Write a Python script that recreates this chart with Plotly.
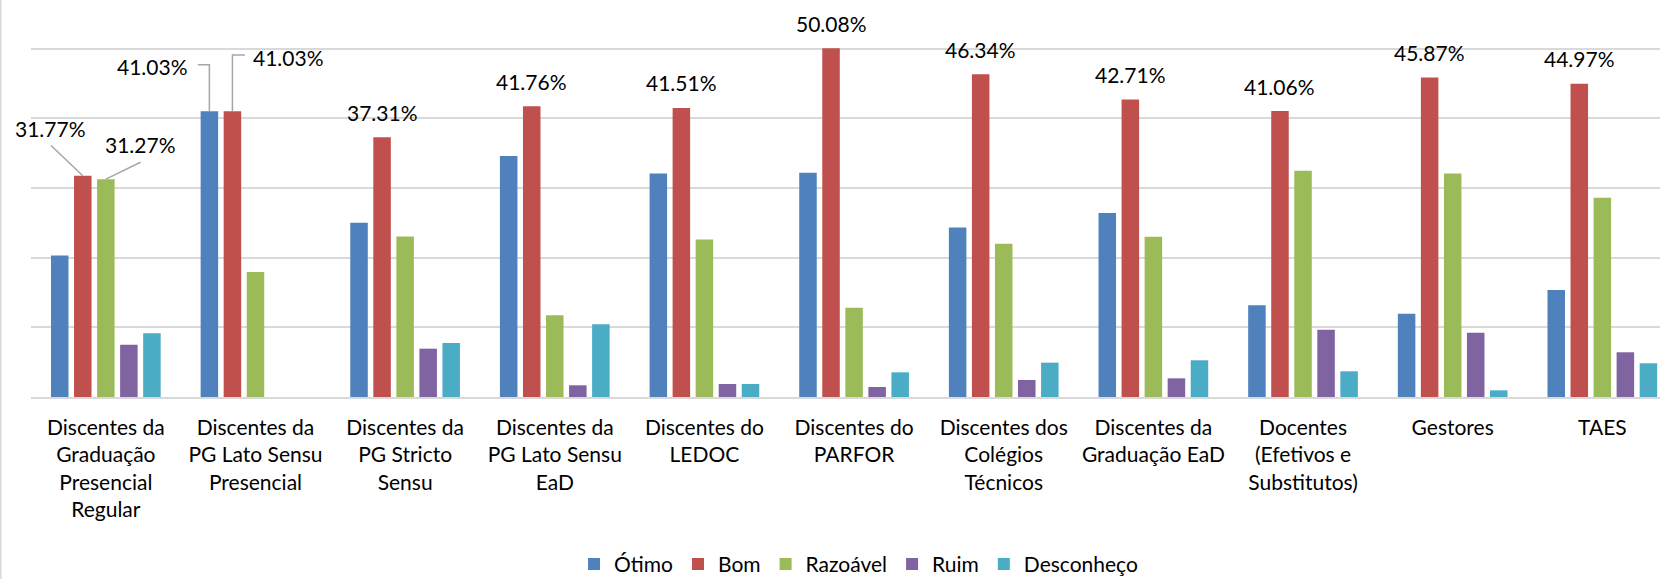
import plotly.graph_objects as go

categories = [
    "Discentes da<br>Graduação<br>Presencial<br>Regular",
    "Discentes da<br>PG Lato Sensu<br>Presencial",
    "Discentes da<br>PG Stricto<br>Sensu",
    "Discentes da<br>PG Lato Sensu<br>EaD",
    "Discentes do<br>LEDOC",
    "Discentes do<br>PARFOR",
    "Discentes dos<br>Colégios<br>Técnicos",
    "Discentes da<br>Graduação EaD",
    "Docentes<br>(Efetivos e<br>Substitutos)",
    "Gestores",
    "TAES",
]
series_names = ["Ótimo", "Bom", "Razoável", "Ruim", "Desconheço"]
otimo      = [20.30, 41.03, 25.03, 34.59, 32.10, 32.20, 24.35, 26.41, 13.16, 11.97, 15.36]
bom        = [31.77, 41.03, 37.31, 41.76, 41.51, 50.08, 46.34, 42.71, 41.06, 45.87, 44.97]
razoavel   = [31.27, 17.94, 23.06, 11.73, 22.63, 12.83, 22.01, 23.02, 32.49, 32.10, 28.62]
ruim       = [7.50, 0.00, 6.94, 1.68, 1.87, 1.44, 2.44, 2.68, 9.67, 9.24, 6.42]
desconheco = [9.16, 0.00, 7.75, 10.43, 1.87, 3.54, 4.93, 5.27, 3.69, 0.96, 4.84]
colors = ["#4F81BD", "#C0504D", "#9BBB59", "#8064A2", "#4BACC6"]

values = [otimo, bom, razoavel, ruim, desconheco]
xs = list(range(len(categories)))

FONT = "Lato, 'Open Sans', sans-serif"
BARGAP = 0.23
slot = (1 - BARGAP) / len(series_names)
offset = {k: (k - 2) * slot for k in range(5)}

W, H = 1660, 579
YMAX = 50.25
ML, MT = 31, 46.6
MB = H - 396.7
PW = W - ML
PH = H - MT - MB

fig = go.Figure()
for name, vals, col in zip(series_names, values, colors):
    fig.add_trace(go.Bar(x=xs, y=vals, name=name, marker=dict(color=col, line=dict(width=0))))

annotations = []
shapes = []
lbl_font = dict(family=FONT, size=21, color="#000000")

def fmt(v):
    return f"{v:.2f}%"

# plain labels over the "Bom" bars (groups 2..10)
for i in range(2, len(categories)):
    annotations.append(dict(x=i + offset[1], y=bom[i], xref="x", yref="y", text=fmt(bom[i]),
                            showarrow=False, yanchor="middle", yshift=25, font=lbl_font))

line_style = dict(color="#A6A6A6", width=1.5)
# group 0: Bom and Razoável labels with straight leader lines
annotations.append(dict(x=0 + offset[1] - 0.218, y=bom[0] + 6.83, xref="x", yref="y", text=fmt(bom[0]),
                        showarrow=False, font=lbl_font))
shapes.append(dict(type="line", xref="x", yref="y", x0=0 + offset[1] - 0.212, y0=bom[0] + 4.33,
                   x1=0 + offset[1], y1=bom[0], line=line_style))
annotations.append(dict(x=0 + offset[2] + 0.232, y=razoavel[0] + 4.93, xref="x", yref="y", text=fmt(razoavel[0]),
                        showarrow=False, font=lbl_font))
shapes.append(dict(type="line", xref="x", yref="y", x0=0 + offset[2] + 0.232, y0=razoavel[0] + 2.43,
                   x1=0 + offset[2], y1=razoavel[0], line=line_style))
# group 1: Ótimo and Bom labels with elbow leader lines
xb = 1 + offset[0]
annotations.append(dict(x=xb - 0.377, y=otimo[1] + 6.47, xref="x", yref="y", text=fmt(otimo[1]),
                        showarrow=False, font=lbl_font))
shapes.append(dict(type="path", xref="x", yref="y",
                   path=f"M {xb - 0.077} {otimo[1] + 6.67} L {xb} {otimo[1] + 6.67} L {xb} {otimo[1]}",
                   line=line_style))
xr = 1 + offset[1]
annotations.append(dict(x=xr + 0.377, y=bom[1] + 7.67, xref="x", yref="y", text=fmt(bom[1]),
                        showarrow=False, font=lbl_font))
shapes.append(dict(type="path", xref="x", yref="y",
                   path=f"M {xr + 0.083} {bom[1] + 8.07} L {xr} {bom[1] + 8.07} L {xr} {bom[1]}",
                   line=line_style))
# light chart border on the left edge
bx = (0.75 - ML) / PW
shapes.append(dict(type="line", xref="paper", yref="paper", x0=bx, x1=bx,
                   y0=-1, y1=2, line=dict(color="#D9D9D9", width=1.5)))

fig.update_layout(
    width=W, height=H,
    margin=dict(l=ML, r=0, t=MT, b=MB, pad=0, autoexpand=False),
    paper_bgcolor="white", plot_bgcolor="white",
    barmode="group", bargap=BARGAP, bargroupgap=0.24,
    font=dict(family=FONT, size=21, color="#000000"),
    annotations=annotations, shapes=shapes,
    showlegend=True,
    legend=dict(orientation="h", x=0.508, xanchor="center", y=-(564 - 396.7) / PH, yanchor="middle",
                font=dict(family=FONT, size=21, color="#000000"), traceorder="normal",
                itemwidth=30),
)
fig.update_xaxes(tickmode="array", tickvals=xs, ticktext=categories, range=[-0.5, -0.5 + PW / 149.65],
                 showgrid=False, zeroline=False, showline=True, linecolor="#D9D9D9", linewidth=1.5,
                 ticks="", ticklabelstandoff=11, automargin=False,
                 tickfont=dict(family=FONT, size=21, color="#000000"))
fig.update_yaxes(range=[0, YMAX], tickmode="array", tickvals=[10, 20, 30, 40, 50],
                 showgrid=True, gridcolor="#D9D9D9", gridwidth=1.5, automargin=False,
                 zeroline=False, showticklabels=False, showline=False)

fig.write_html(
    "out.html",
    config={"displayModeBar": False},
    post_script="document.body.style.margin='0px';document.documentElement.style.overflow='hidden';document.body.style.overflow='hidden';",
)
